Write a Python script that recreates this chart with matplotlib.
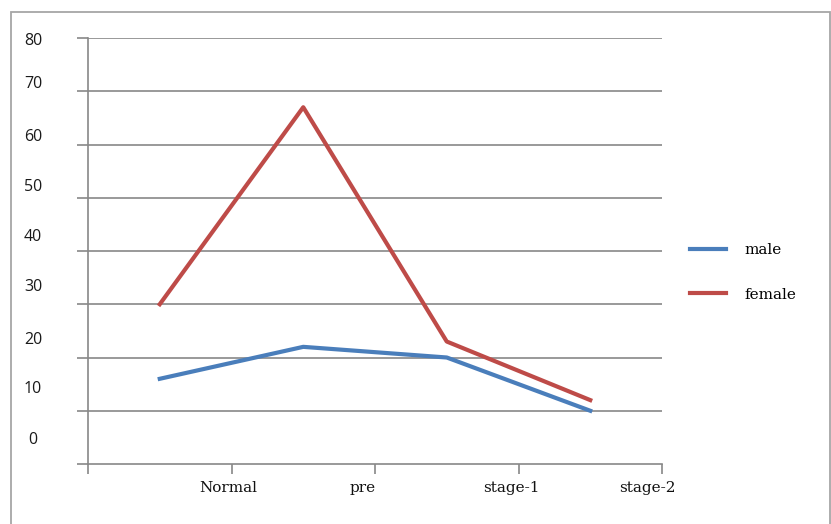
import matplotlib
matplotlib.use("Agg")
import matplotlib.pyplot as plt
from matplotlib.patches import Rectangle
from matplotlib.transforms import ScaledTranslation

# Data
categories = ["Normal", "pre", "stage-1", "stage-2"]
male = [16, 22, 20, 10]
female = [30, 67, 23, 12]
y_ticks = [0, 10, 20, 30, 40, 50, 60, 70, 80]

# label nudges in pixels (dx, dy), as laid out by the original chart engine
y_label_shift = [26, 24, 20, 19, 16, 13, 10, 9, -1]
x_label_shift = [-3, -12, -7, -15]

BLUE = "#4a7ebb"
RED = "#be4b48"
GRID = "#888888"

fig = plt.figure(figsize=(8.31, 5.24), dpi=100)
W, H = 831, 524

# outer chart frame
fig.add_artist(Rectangle((11 / W, -0.05), (830 - 11) / W, (524 - 12) / H + 0.05,
                         transform=fig.transFigure, fill=False,
                         edgecolor="#a6a6a6", linewidth=1.3))

ax = fig.add_axes([88 / W, (H - 464) / H, (662 - 88) / W, (464 - 38) / H])

xs = [i + 0.5 for i in range(len(categories))]
ax.plot(xs, male, color=BLUE, linewidth=3.0, label="male")
ax.plot(xs, female, color=RED, linewidth=3.0, label="female")

ax.set_xlim(0, len(categories))
ax.set_ylim(0, 80)

# horizontal gridlines
for v in y_ticks[1:]:
    ax.axhline(v, color=GRID, linewidth=1.2, zorder=0)

for side in ("top", "right"):
    ax.spines[side].set_visible(False)
for side in ("left", "bottom"):
    ax.spines[side].set_color(GRID)
    ax.spines[side].set_linewidth(1.2)

ax.set_yticks(y_ticks)
ax.set_yticklabels([str(v) for v in y_ticks])
ax.tick_params(axis="y", length=8, width=1.2, color=GRID, pad=31.5,
               labelsize=11.5, labelcolor="#1a1a1a")
for lab in ax.get_yticklabels():
    lab.set_fontfamily("Open Sans")
    lab.set_horizontalalignment("center")

ax.set_xticks(range(len(categories) + 1))
ax.set_xticklabels([""] + categories)
ax.tick_params(axis="x", length=7, width=1.2, color=GRID, pad=5,
               labelsize=11, labelcolor="#111111")
for lab in ax.get_xticklabels():
    lab.set_fontfamily("DejaVu Serif")

fig.canvas.draw()
for lab, dy in zip(ax.get_yticklabels(), y_label_shift):
    lab.set_transform(lab.get_transform() + ScaledTranslation(0, dy / 100, fig.dpi_scale_trans))
for lab, dx in zip(ax.get_xticklabels()[1:], x_label_shift):
    lab.set_transform(lab.get_transform() + ScaledTranslation(dx / 100, 0, fig.dpi_scale_trans))

leg = ax.legend(loc="upper left", bbox_to_anchor=(690 / W, (H - 243) / H),
                bbox_transform=fig.transFigure, frameon=False,
                prop={"family": "DejaVu Serif", "size": 11},
                handlelength=2.35, handletextpad=1.2, labelspacing=2.0,
                borderpad=0, borderaxespad=0)
for h in leg.get_lines():
    h.set_linewidth(3.0)

fig.savefig("out.png", dpi=100, facecolor="white")
